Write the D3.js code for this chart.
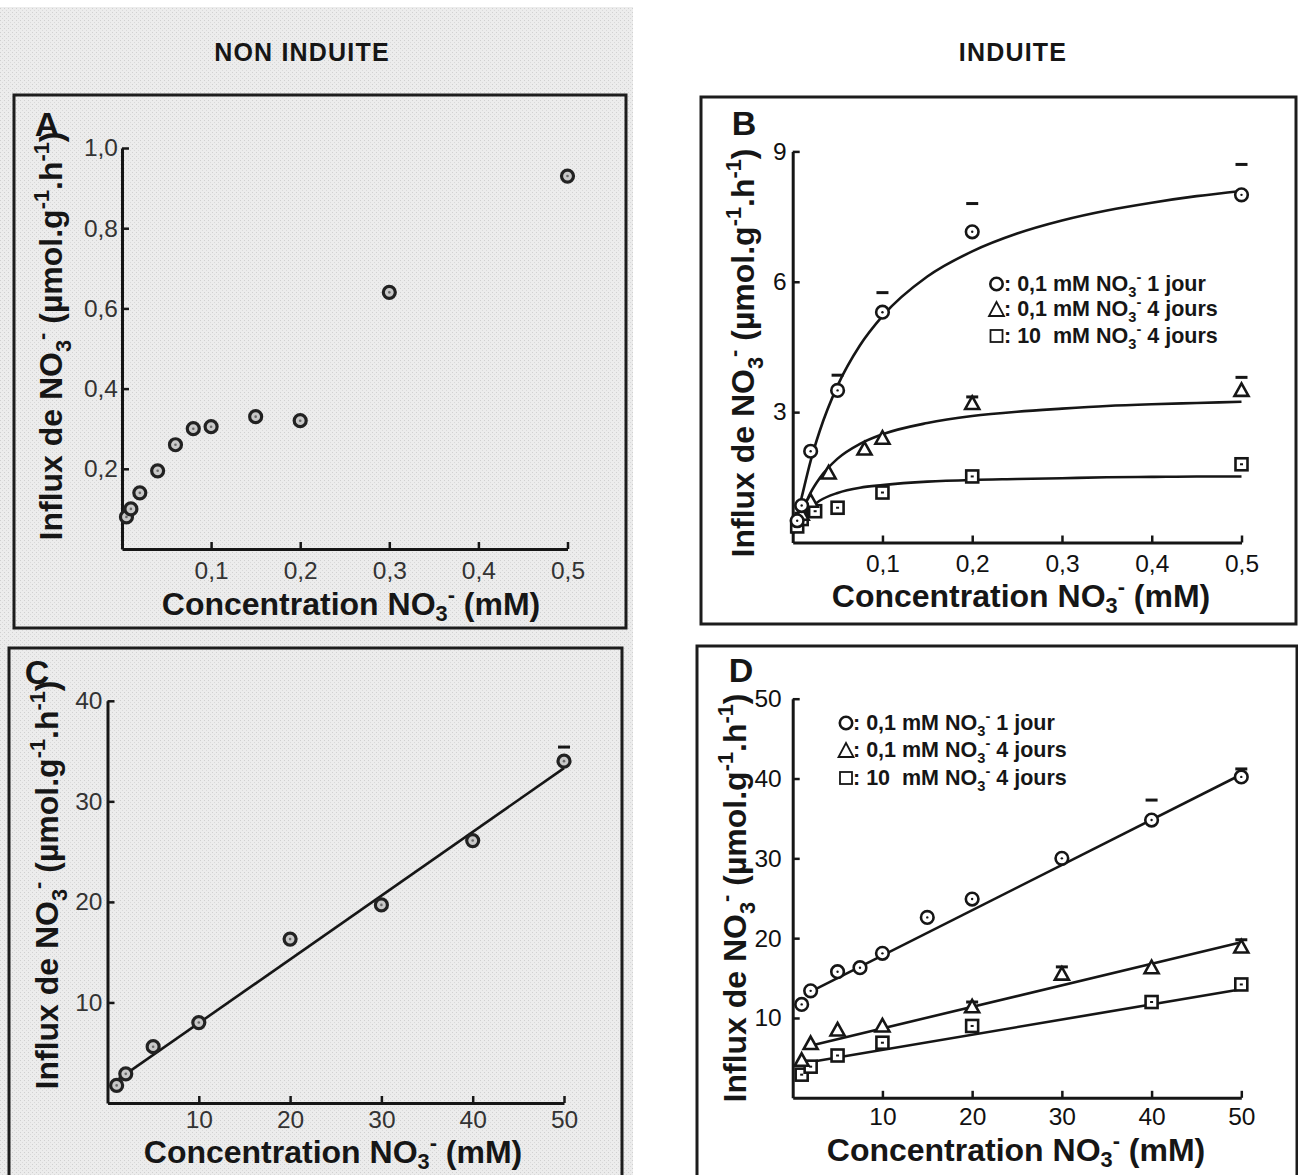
<!DOCTYPE html>
<html><head><meta charset="utf-8">
<script src="https://cdn.jsdelivr.net/npm/d3@7"></script>
<style>
html,body{margin:0;padding:0;background:#fff;}
svg{display:block;}
text{font-family:"Liberation Sans", Arial, Helvetica, sans-serif;}
</style></head><body>
<svg id="chart" width="1298" height="1175"></svg>
<script>
// ---------- DATA ----------
const columnTitles = ["NON INDUITE", "INDUITE"];
const panelLetters = ["A", "B", "C", "D"];
const legendLabels = ["0,1 mM NO|3|-| 1 jour", "0,1 mM NO|3|-| 4 jours", "10  mM NO|3|-| 4 jours"];

// Panel A (non induite, low range)
const aConc   = [0.005, 0.01, 0.02, 0.04, 0.06, 0.08, 0.10, 0.15, 0.20, 0.30, 0.50];
const aInflux = [0.08, 0.10, 0.14, 0.195, 0.26, 0.30, 0.305, 0.33, 0.32, 0.64, 0.93];
const aXTicks = [0.1, 0.2, 0.3, 0.4, 0.5];
const aYTicks = [0.2, 0.4, 0.6, 0.8, 1.0];

// Panel B (induite, low range)
const bConc1 = [0.005, 0.01, 0.02, 0.05, 0.10, 0.20, 0.50];
const bInflux1 = [0.50, 0.85, 2.10, 3.50, 5.30, 7.15, 8.00];
const bErr1 = [null, null, null, 3.85, 5.75, 7.80, 8.70];
const bConc2 = [0.01, 0.02, 0.04, 0.08, 0.10, 0.20, 0.50];
const bInflux2 = [0.65, 0.95, 1.60, 2.15, 2.40, 3.20, 3.50];
const bErr2 = [null, null, null, null, null, 3.35, 3.80];
const bConc3 = [0.005, 0.01, 0.025, 0.05, 0.10, 0.20, 0.50];
const bInflux3 = [0.37, 0.54, 0.72, 0.80, 1.15, 1.52, 1.80];
const bFitConc = [0, 0.01, 0.02, 0.03, 0.05, 0.075, 0.10, 0.15, 0.20, 0.25, 0.30, 0.35, 0.40, 0.45, 0.50];
const bFit1 = [0.2, 1.04, 1.88, 2.56, 3.61, 4.54, 5.21, 6.12, 6.70, 7.11, 7.41, 7.64, 7.82, 7.97, 8.09];
const bFit2 = [0.2, 0.69, 1.15, 1.48, 1.93, 2.27, 2.49, 2.75, 2.91, 3.01, 3.08, 3.14, 3.18, 3.21, 3.24];
const bFit3 = [0.2, 0.54, 0.80, 0.96, 1.14, 1.26, 1.32, 1.40, 1.44, 1.46, 1.48, 1.50, 1.51, 1.52, 1.52];
const bXTicks = [0.1, 0.2, 0.3, 0.4, 0.5];
const bYTicks = [3, 6, 9];

// Panel C (non induite, high range)
const cConc = [1, 2, 5, 10, 20, 30, 40, 50];
const cInflux = [1.75, 2.9, 5.6, 8.0, 16.3, 19.7, 26.1, 34.0];
const cErr = [null, null, null, null, null, null, null, 35.4];
const cFitConc = [0.3, 50];
const cFit = [1.8, 33.3];
const cXTicks = [10, 20, 30, 40, 50];
const cYTicks = [10, 20, 30, 40];

// Panel D (induite, high range)
const dConc1 = [1, 2, 5, 7.5, 10, 15, 20, 30, 40, 50];
const dInflux1 = [11.7, 13.4, 15.8, 16.3, 18.1, 22.6, 24.9, 30.0, 34.8, 40.2];
const dErr1 = [null, null, null, null, null, null, null, null, 37.3, 41.2];
const dConc2 = [1, 2, 5, 10, 20, 30, 40, 50];
const dInflux2 = [4.7, 6.8, 8.5, 9.0, 11.4, 15.5, 16.3, 18.9];
const dErr2 = [null, null, null, null, 12.0, 16.4, null, 19.8];
const dConc3 = [1, 2, 5, 10, 20, 40, 50];
const dInflux3 = [2.9, 3.9, 5.3, 6.9, 9.0, 12.0, 14.2];
const dFitConc1 = [2, 50];   const dFit1 = [13.3, 40.5];
const dFitConc2 = [1.5, 50]; const dFit2 = [6.4, 19.5];
const dFitConc3 = [1, 50];   const dFit3 = [4.3, 13.6];
const dXTicks = [10, 20, 30, 40, 50];
const dYTicks = [10, 20, 30, 40, 50];

// ---------- DRAWING ----------
const svg = d3.select('#chart');
const ink = '#161616';
const FONT = '"Liberation Sans", Arial, Helvetica, sans-serif';

const defs = svg.append('defs');
const pat = defs.append('pattern').attr('id', 'grain').attr('width', 4).attr('height', 4)
  .attr('patternUnits', 'userSpaceOnUse');
pat.append('rect').attr('width', 4).attr('height', 4).attr('fill', '#ececec');
pat.append('rect').attr('x', 0).attr('y', 0).attr('width', 1).attr('height', 1).attr('fill', '#d0d0d0');
pat.append('rect').attr('x', 2).attr('y', 2).attr('width', 1).attr('height', 1).attr('fill', '#d9d9d9');

svg.append('rect').attr('x', 0).attr('y', 7).attr('width', 633).attr('height', 1168).attr('fill', 'url(#grain)');

// column titles
svg.append('text').attr('x', 302).attr('y', 61).attr('text-anchor', 'middle')
  .attr('font-size', 25).attr('font-weight', 'bold').attr('letter-spacing', 1.2).attr('fill', ink).text(columnTitles[0]);
svg.append('text').attr('x', 1013).attr('y', 61).attr('text-anchor', 'middle')
  .attr('font-size', 25).attr('font-weight', 'bold').attr('letter-spacing', 1.2).attr('fill', ink).text(columnTitles[1]);

function rich(g, x, y, parts, fs, opts = {}) {
  const t = g.append('text').attr('x', x).attr('y', y).attr('font-size', fs)
    .attr('font-weight', 'bold').attr('fill', ink)
    .attr('text-anchor', opts.anchor || 'start').style('white-space', 'pre');
  if (opts.rotate) t.attr('transform', `rotate(-90,${x},${y})`);
  const subOff = opts.subOff != null ? opts.subOff : 0.28;
  let cur = 0;
  parts.forEach(p => {
    const target = p.s === 'sub' ? subOff * fs : p.s === 'sup' ? -0.42 * fs : 0;
    const ts = t.append('tspan').attr('dy', target - cur).text(p.t);
    if (p.s) ts.attr('font-size', fs * 0.68);
    cur = target;
  });
  return t;
}
const xTitleParts = [{t: 'Concentration NO'}, {t: '3', s: 'sub'}, {t: '-', s: 'sup'}, {t: ' (mM)'}];
const yTitleParts = [{t: 'Influx de NO'}, {t: '3', s: 'sub'}, {t: '-', s: 'sup'}, {t: ' (µmol.g'},
  {t: '-1', s: 'sup'}, {t: '.h'}, {t: '-1', s: 'sup'}, {t: ')'}];

function marker(g, type, cx, cy) {
  if (type === 'circleGray') {
    g.append('circle').attr('cx', cx).attr('cy', cy).attr('r', 6)
      .attr('fill', '#c8c8c8').attr('stroke', '#222').attr('stroke-width', 3.2);
    g.append('circle').attr('cx', cx).attr('cy', cy).attr('r', 1.3).attr('fill', '#6a6a6a');
  } else if (type === 'circle') {
    g.append('circle').attr('cx', cx).attr('cy', cy).attr('r', 6.3)
      .attr('fill', '#fff').attr('stroke', ink).attr('stroke-width', 2.6);
    g.append('circle').attr('cx', cx).attr('cy', cy).attr('r', 1.2).attr('fill', ink);
  } else if (type === 'triangle') {
    g.append('path').attr('d', `M${cx},${cy - 7} L${cx + 7},${cy + 5.5} L${cx - 7},${cy + 5.5} Z`)
      .attr('fill', '#fff').attr('stroke', ink).attr('stroke-width', 2.6).attr('stroke-linejoin', 'miter');
  } else if (type === 'square') {
    g.append('rect').attr('x', cx - 6).attr('y', cy - 6).attr('width', 12).attr('height', 12)
      .attr('fill', '#fff').attr('stroke', ink).attr('stroke-width', 2.6);
    g.append('rect').attr('x', cx - 1.5).attr('y', cy - 1).attr('width', 3).attr('height', 2).attr('fill', ink);
  }
}

function panel(cfg) {
  const g = svg.append('g');
  const x = d3.scaleLinear().domain(cfg.xDomain).range(cfg.xRange);
  const y = d3.scaleLinear().domain(cfg.yDomain).range(cfg.yRange);

  g.append('rect').attr('x', cfg.box[0]).attr('y', cfg.box[1]).attr('width', cfg.box[2]).attr('height', cfg.box[3])
    .attr('fill', 'none').attr('stroke', '#1c1c1c').attr('stroke-width', 3);

  const gx = g.append('g').attr('transform', `translate(0,${y(0)})`)
    .call(d3.axisBottom(x).tickValues(cfg.xTicks).tickFormat(cfg.xFmt)
      .tickSizeInner(-7).tickSizeOuter(0).tickPadding(cfg.xPad));
  const gy = g.append('g').attr('transform', `translate(${x(0)},0)`)
    .call(d3.axisLeft(y).tickValues(cfg.yTicks).tickFormat(cfg.yFmt)
      .tickSizeInner(-7).tickSizeOuter(0).tickPadding(cfg.yPad));
  [gx, gy].forEach(a => {
    a.attr('font-size', 24.5).attr('font-family', FONT);
    a.select('.domain').attr('stroke', ink).attr('stroke-width', 3);
    a.selectAll('.tick line').attr('stroke', ink).attr('stroke-width', 2.5);
    a.selectAll('.tick text').attr('fill', cfg.tickColor);
  });

  cfg.fits.forEach(f => {
    const pts = f.xs.map((v, i) => [v, f.ys[i]]);
    g.append('path').datum(pts)
      .attr('d', d3.line().x(d => x(d[0])).y(d => y(d[1])).curve(d3.curveMonotoneX))
      .attr('fill', 'none').attr('stroke', ink).attr('stroke-width', 2.6);
  });
  cfg.series.forEach(s => {
    s.xs.forEach((v, i) => {
      if (s.err && s.err[i] != null) {
        g.append('line').attr('x1', x(v) - 6).attr('x2', x(v) + 6)
          .attr('y1', y(s.err[i])).attr('y2', y(s.err[i]))
          .attr('stroke', ink).attr('stroke-width', 3);
      }
      marker(g, s.type, x(v), y(s.ys[i]));
    });
  });

  g.append('text').attr('x', cfg.letterPos[0]).attr('y', cfg.letterPos[1]).attr('text-anchor', 'middle')
    .attr('font-size', 34).attr('font-weight', 'bold').attr('fill', ink).text(cfg.letter);

  rich(g, cfg.xTitle[0], cfg.xTitle[1], xTitleParts, 32, {anchor: 'middle', subOff: 0.19});
  rich(g, cfg.yTitle[0], cfg.yTitle[1], yTitleParts, 32, {anchor: 'middle', rotate: true});

  if (cfg.legend) {
    const L = cfg.legend;
    ['circle', 'triangle', 'square'].forEach((tp, i) => {
      const sy = L.y[i];
      if (tp === 'circle') g.append('circle').attr('cx', L.sx).attr('cy', sy - 7).attr('r', 6.2)
        .attr('fill', 'none').attr('stroke', ink).attr('stroke-width', 2.6);
      if (tp === 'triangle') g.append('path')
        .attr('d', `M${L.sx},${sy - 14} L${L.sx + 7.5},${sy} L${L.sx - 7.5},${sy} Z`)
        .attr('fill', 'none').attr('stroke', ink).attr('stroke-width', 1.8);
      if (tp === 'square') g.append('rect').attr('x', L.sx - 6).attr('y', sy - 13).attr('width', 12).attr('height', 12)
        .attr('fill', 'none').attr('stroke', ink).attr('stroke-width', 1.8);
      const raw = legendLabels[i].split('|');
      rich(g, L.tx, sy, [{t: ': ' + raw[0]}, {t: raw[1], s: 'sub'}, {t: raw[2], s: 'sup'}, {t: raw[3]}], 21.5);
    });
  }
}

const fmt1 = d => d.toFixed(1).replace('.', ',');
const fmt0 = d => String(d);

panel({
  box: [14, 95, 612, 533], xDomain: [0, 0.5], xRange: [122, 567.5], yDomain: [0, 1], yRange: [549, 148],
  xTicks: aXTicks, yTicks: aYTicks, xFmt: fmt1, yFmt: fmt1, xPad: 13, yPad: 4, tickColor: '#333',
  fits: [], series: [{type: 'circleGray', xs: aConc, ys: aInflux}],
  letter: panelLetters[0], letterPos: [47, 136], xTitle: [351, 615], yTitle: [62, 336]
});
panel({
  box: [701, 97, 595, 527], xDomain: [0, 0.5], xRange: [792.7, 1241.5], yDomain: [0, 9], yRange: [542.5, 151.4],
  xTicks: bXTicks, yTicks: bYTicks, xFmt: fmt1, yFmt: fmt0, xPad: 12, yPad: 6, tickColor: '#111',
  fits: [{xs: bFitConc, ys: bFit1}, {xs: bFitConc, ys: bFit2}, {xs: bFitConc, ys: bFit3}],
  series: [
    {type: 'square', xs: bConc3, ys: bInflux3},
    {type: 'triangle', xs: bConc2, ys: bInflux2, err: bErr2},
    {type: 'circle', xs: bConc1, ys: bInflux1, err: bErr1}
  ],
  letter: panelLetters[1], letterPos: [744, 135], xTitle: [1021, 607], yTitle: [754, 353],
  legend: {sx: 996.5, tx: 1004, y: [291, 316, 343]}
});
panel({
  box: [9, 648, 613, 545], xDomain: [0, 50], xRange: [107.5, 564], yDomain: [0, 40], yRange: [1103, 700.8],
  xTicks: cXTicks, yTicks: cYTicks, xFmt: fmt0, yFmt: fmt0, xPad: 8, yPad: 5, tickColor: '#333',
  fits: [{xs: cFitConc, ys: cFit}], series: [{type: 'circleGray', xs: cConc, ys: cInflux, err: cErr}],
  letter: panelLetters[2], letterPos: [37, 684], xTitle: [333, 1163], yTitle: [58, 885]
});
panel({
  box: [697, 646, 600, 545], xDomain: [0, 50], xRange: [792.7, 1241.3], yDomain: [0, 50], yRange: [1097.8, 698.7],
  xTicks: dXTicks, yTicks: dYTicks, xFmt: fmt0, yFmt: fmt0, xPad: 10, yPad: 11, tickColor: '#111',
  fits: [{xs: dFitConc1, ys: dFit1}, {xs: dFitConc2, ys: dFit2}, {xs: dFitConc3, ys: dFit3}],
  series: [
    {type: 'square', xs: dConc3, ys: dInflux3},
    {type: 'triangle', xs: dConc2, ys: dInflux2, err: dErr2},
    {type: 'circle', xs: dConc1, ys: dInflux1, err: dErr1}
  ],
  letter: panelLetters[3], letterPos: [741, 682], xTitle: [1016, 1161], yTitle: [746, 898],
  legend: {sx: 846, tx: 853, y: [730, 757, 785]}
});
</script>
</body></html>
